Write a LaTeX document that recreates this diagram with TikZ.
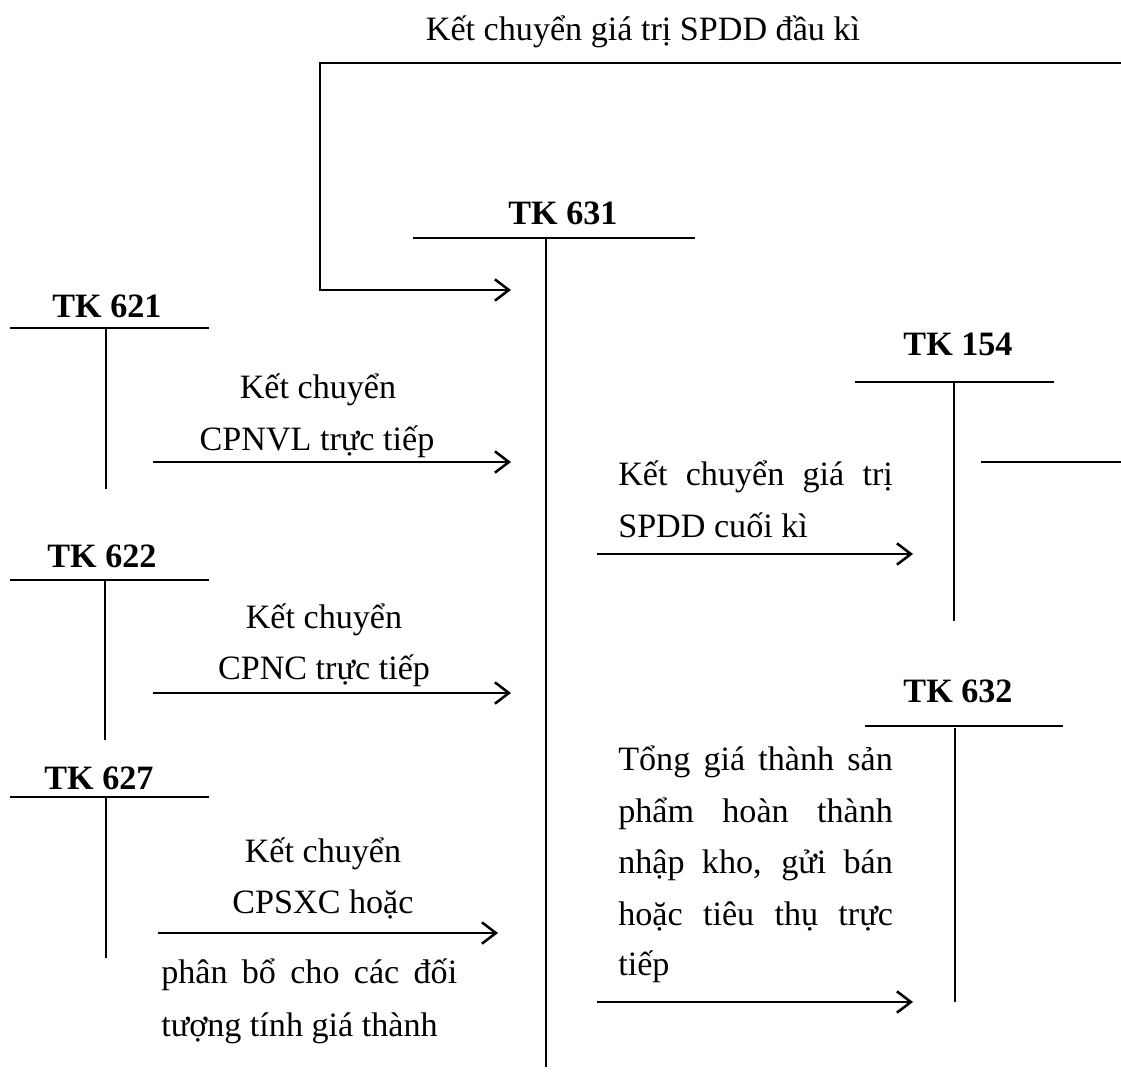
\documentclass[tikz,border=0pt]{standalone}
\usepackage{fontspec}
\setmainfont{Liberation Serif}
\usetikzlibrary{arrows.meta}
\newcommand\diagfont{\fontsize{25.6pt}{30pt}\selectfont}
\newcommand\jline[2]{\makebox[#1][s]{#2}}
\begin{document}
\begin{tikzpicture}[x=0.75pt,y=-0.75pt,
  txt/.style={font=\diagfont, inner sep=0pt, anchor=base},
  ltxt/.style={font=\diagfont, inner sep=0pt, anchor=base west},
  acct/.style={font=\diagfont\bfseries, inner sep=0pt, anchor=base},
  hbar/.style={line width=1.9pt},
  vbar/.style={line width=1.5pt},
  arr/.style={line width=1.9pt, -{Straight Barb[length=10.5pt,width=16pt]}}]
\useasboundingbox (0,0) rectangle (1121,1075);

% ---------- top transfer ----------
\node[txt] (topt) at (643,40) {Kết chuyển giá trị SPDD đầu kì};
\coordinate (fR) at (1121,63);
\coordinate (fTL) at (320,63);
\coordinate (fBL) at (320,290);
\coordinate (fA) at (511,290);
\draw[arr] (fR) -- (fTL) -- (fBL) -- (fA);

% ---------- TK 631 ----------
\node[acct] (k631) at (563,224) {TK 631};
\coordinate (h631a) at (413,238);
\coordinate (h631b) at (695,238);
\coordinate (v631a) at (546,238);
\coordinate (v631b) at (546,1067);
\draw[hbar] (h631a) -- (h631b);
\draw[vbar] (v631a) -- (v631b);

% ---------- TK 621 ----------
\node[acct] (k621) at (107,317) {TK 621};
\coordinate (h621a) at (10,328);
\coordinate (h621b) at (209,328);
\coordinate (v621a) at (106,328);
\coordinate (v621b) at (106,489);
\draw[hbar] (h621a) -- (h621b);
\draw[vbar] (v621a) -- (v621b);
\node[txt] (l621a) at (318,398) {Kết chuyển};
\node[txt] (l621b) at (317,450) {CPNVL trực tiếp};
\coordinate (a621s) at (153,462);
\coordinate (a621e) at (511,462);
\draw[arr] (a621s) -- (a621e);

% ---------- TK 622 ----------
\node[acct] (k622) at (102,567) {TK 622};
\coordinate (h622a) at (10,580);
\coordinate (h622b) at (209,580);
\coordinate (v622a) at (105,580);
\coordinate (v622b) at (105,740);
\draw[hbar] (h622a) -- (h622b);
\draw[vbar] (v622a) -- (v622b);
\node[txt] (l622a) at (324,628) {Kết chuyển};
\node[txt] (l622b) at (324,679) {CPNC trực tiếp};
\coordinate (a622s) at (153,693);
\coordinate (a622e) at (511,693);
\draw[arr] (a622s) -- (a622e);

% ---------- TK 627 ----------
\node[acct] (k627) at (99,789) {TK 627};
\coordinate (h627a) at (10,797);
\coordinate (h627b) at (209,797);
\coordinate (v627a) at (106,797);
\coordinate (v627b) at (106,958);
\draw[hbar] (h627a) -- (h627b);
\draw[vbar] (v627a) -- (v627b);
\node[txt] (l627a) at (323,862) {Kết chuyển};
\node[txt] (l627b) at (323,913) {CPSXC hoặc};
\coordinate (a627s) at (158,933);
\coordinate (a627e) at (498,933);
\draw[arr] (a627s) -- (a627e);
\node[ltxt] (l627c) at (161,983) {\jline{222pt}{phân bổ cho các đối}};
\node[ltxt] (l627d) at (161,1036) {tượng tính giá thành};

% ---------- TK 154 ----------
\node[acct] (k154) at (958,355) {TK 154};
\coordinate (h154a) at (855,382);
\coordinate (h154b) at (1054,382);
\coordinate (v154a) at (954,382);
\coordinate (v154b) at (954,621);
\coordinate (s154a) at (981,462);
\coordinate (s154b) at (1121,462);
\draw[hbar] (h154a) -- (h154b);
\draw[vbar] (v154a) -- (v154b);
\draw[hbar] (s154a) -- (s154b);
\node[ltxt] (l154a) at (618,485) {\jline{206pt}{Kết chuyển giá trị}};
\node[ltxt] (l154b) at (618,537) {SPDD cuối kì};
\coordinate (a154s) at (597,554);
\coordinate (a154e) at (913,554);
\draw[arr] (a154s) -- (a154e);

% ---------- TK 632 ----------
\node[acct] (k632) at (958,702) {TK 632};
\coordinate (h632a) at (865,726);
\coordinate (h632b) at (1063,726);
\coordinate (v632a) at (955,728);
\coordinate (v632b) at (955,1002);
\draw[hbar] (h632a) -- (h632b);
\draw[vbar] (v632a) -- (v632b);
\node[ltxt] (l632a) at (618,770) {\jline{206pt}{Tổng giá thành sản}};
\node[ltxt] (l632b) at (618,822) {\jline{206pt}{phẩm hoàn thành}};
\node[ltxt] (l632c) at (618,873) {\jline{206pt}{nhập kho, gửi bán}};
\node[ltxt] (l632d) at (618,925) {\jline{206pt}{hoặc tiêu thụ trực}};
\node[ltxt] (l632e) at (618,975) {tiếp};
\coordinate (a632s) at (597,1002);
\coordinate (a632e) at (913,1002);
\draw[arr] (a632s) -- (a632e);
\end{tikzpicture}
\end{document}
